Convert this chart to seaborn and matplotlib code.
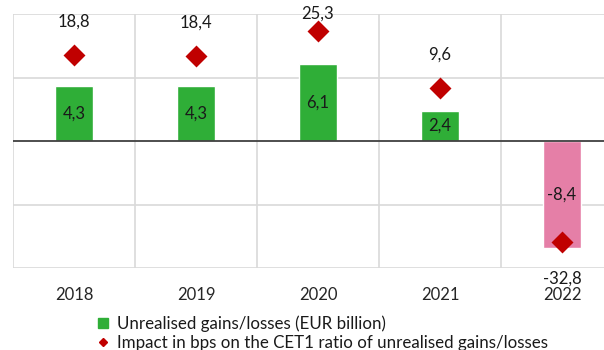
import matplotlib
matplotlib.use("Agg")
import matplotlib.pyplot as plt
from matplotlib.lines import Line2D
import seaborn as sns
import pandas as pd

# Data
years = ["2018", "2019", "2020", "2021", "2022"]
gains_bn = [4.3, 4.3, 6.1, 2.4, -8.4]           # unrealised gains/losses, EUR billion
impact_bps = [18.8, 18.4, 25.3, 9.6, -32.8]     # impact on CET1 ratio, bps
series_labels = ["Unrealised gains/losses (EUR billion)",
                 "Impact in bps on the CET1 ratio of unrealised gains/losses"]

GREEN = "#2fae37"
PINK = "#e57fa7"
RED = "#c00000"
GRID = "#d9d9d9"

sns.set_theme(style="white")
plt.rcParams["font.family"] = ["Lato", "DejaVu Sans"]

def fmt(v):
    return f"{v:.1f}".replace(".", ",")

df = pd.DataFrame({"year": years, "gains": gains_bn, "impact": impact_bps})
bar_colors = [GREEN if v >= 0 else PINK for v in gains_bn]

fig = plt.figure(figsize=(6.04, 3.5), dpi=100)
ax = fig.add_axes([13 / 604, 1 - 268 / 350, 610 / 604, 254 / 350])

sns.barplot(data=df, x="year", y="gains", hue="year", palette=bar_colors,
            legend=False, width=0.31, saturation=1, ax=ax)
ax.set_ylim(-10, 10)
ax.set_xlim(-0.5, len(years) - 0.5)

# gridlines: horizontal at 5 units, vertical at category boundaries
for y in (-10, -5, 5, 10):
    ax.axhline(y, color=GRID, lw=1.2, zorder=0)
for i in range(len(years) + 1):
    ax.axvline(i - 0.5, color=GRID, lw=1.2, zorder=0)
ax.axhline(0, color="#404040", lw=1.3, zorder=3)

for s in ax.spines.values():
    s.set_visible(False)
ax.set_yticks([])
ax.set_xlabel("")
ax.set_ylabel("")
ax.tick_params(axis="x", length=0, pad=14, labelsize=12, colors="#262626")

# bar value labels centred in each bar
for i, v in enumerate(gains_bn):
    ax.text(i, v / 2, fmt(v), ha="center", va="center", fontsize=12,
            color="#1a1a1a", zorder=5)

# secondary axis for the CET1 impact
ax2 = ax.twinx()
sns.scatterplot(data=df, x="year", y="impact", marker="D", s=125, color=RED,
                edgecolor=RED, linewidth=0, ax=ax2, zorder=6, legend=False)
ax2.set_ylim(-40, 30)
ax2.set_yticks([])
ax2.set_ylabel("")
for s in ax2.spines.values():
    s.set_visible(False)

for i, v in enumerate(impact_bps):
    if v >= 0:
        ly = min(v + 9.1, 30)
    else:
        ly = v - 10.0
    ax2.text(i, ly, fmt(v), ha="center", va="center", fontsize=12,
             color="#1a1a1a", zorder=7)

handles = [
    Line2D([], [], marker="s", ls="", color=GREEN, markersize=7),
    Line2D([], [], marker="D", ls="", color=RED, markersize=4.5),
]
fig.legend(handles, series_labels, loc="upper left",
           bbox_to_anchor=(88 / 604, 1 - 307 / 350), frameon=False,
           fontsize=12.2, handlelength=0.8, handletextpad=0.4,
           labelspacing=0.2, borderpad=0, labelcolor="#1a1a1a")

fig.savefig("out.png", dpi=100)
